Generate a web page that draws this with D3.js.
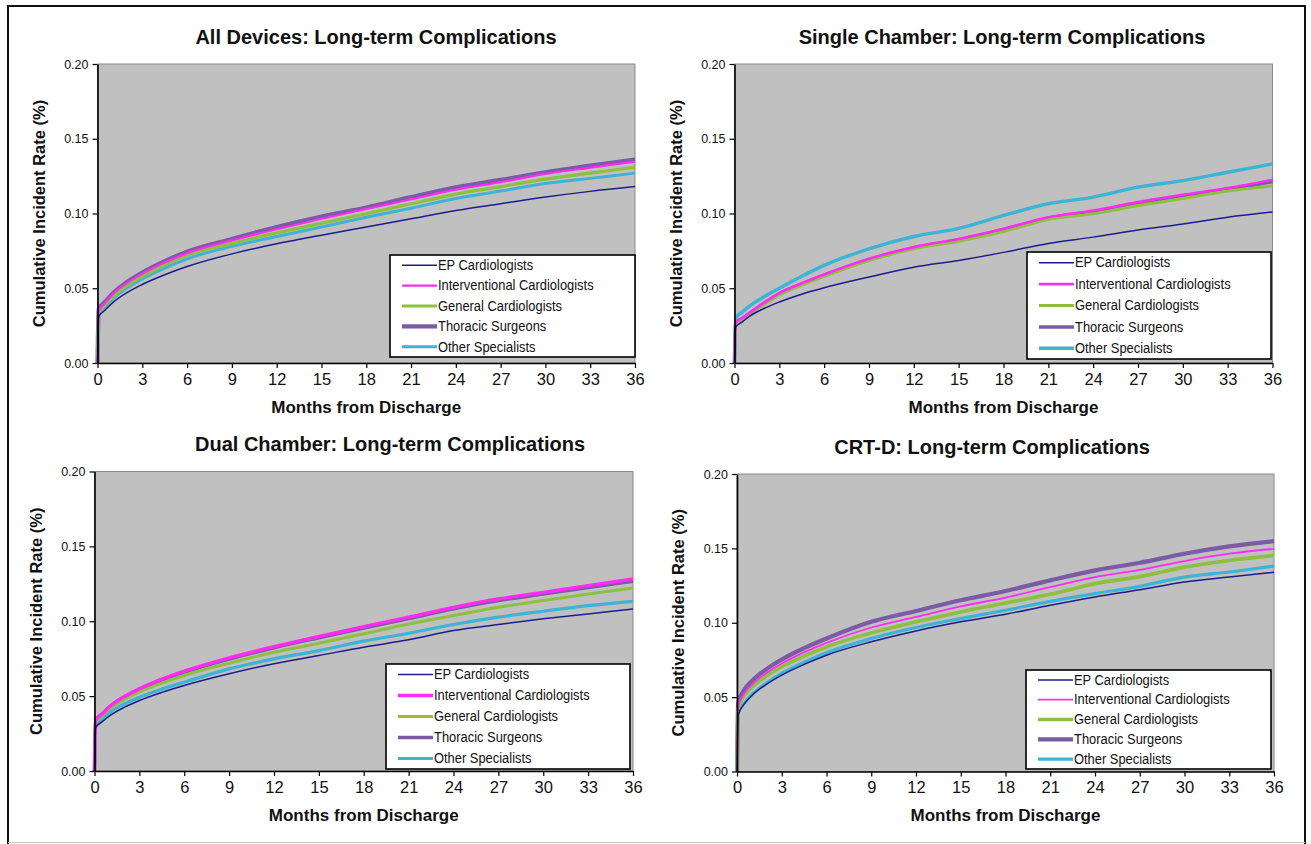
<!DOCTYPE html>
<html><head><meta charset="utf-8">
<script src="https://cdn.jsdelivr.net/npm/d3@7"></script>
<style>
body{margin:0;background:#fff;}
svg{display:block;font-family:"Liberation Sans",Arial,sans-serif;}
</style></head>
<body><svg id="c" width="1311" height="844"></svg>
<script>
// ---- data ----
const months = [0, 0.08, 0.5, 1, 2, 3, 4.5, 6, 9, 12, 15, 18, 21, 24, 27, 30, 33, 36];
const seriesNames = ["EP Cardiologists","Interventional Cardiologists","General Cardiologists","Thoracic Surgeons","Other Specialists"];
const seriesColors = ["#1c1c8f","#ff2cf5","#8ebf3f","#7b5aa6","#3fb3d3"];
const xTicks = [0,3,6,9,12,15,18,21,24,27,30,33,36];
const yTicks = [0,0.05,0.10,0.15,0.20];
const titles = ["All Devices: Long-term Complications","Single Chamber: Long-term Complications","Dual Chamber: Long-term Complications","CRT-D: Long-term Complications"];

// All devices
const allEP  = [0,0.031,0.0353,0.0402,0.0472,0.0525,0.0590,0.0645,0.073,0.0797,0.0855,0.091,0.0965,0.102,0.1065,0.111,0.1148,0.118];
const allInt = [0,0.035,0.0400,0.0457,0.0536,0.0597,0.0672,0.0735,0.082,0.0895,0.0965,0.103,0.1095,0.116,0.121,0.1265,0.1307,0.1347];
const allGen = [0,0.034,0.0385,0.0440,0.0518,0.058,0.0656,0.072,0.080,0.087,0.0935,0.0998,0.1065,0.113,0.118,0.123,0.127,0.131];
const allTho = [0,0.036,0.0408,0.0464,0.0543,0.0605,0.0681,0.0745,0.083,0.091,0.098,0.104,0.111,0.1176,0.1225,0.1276,0.132,0.136];
const allOth = [0,0.033,0.0375,0.0428,0.0503,0.0563,0.0635,0.0697,0.078,0.0846,0.091,0.0975,0.1035,0.110,0.115,0.120,0.1235,0.127];
// Single chamber
const sglEP  = [0,0.024,0.0273,0.0312,0.0366,0.0408,0.0460,0.0503,0.0575,0.0641,0.0686,0.074,0.080,0.0842,0.089,0.093,0.0975,0.101];
const sglInt = [0,0.027,0.0300,0.0335,0.0405,0.0468,0.0533,0.0592,0.0697,0.0775,0.083,0.0898,0.0975,0.102,0.1076,0.1125,0.117,0.1225];
const sglGen = [0,0.026,0.0290,0.0325,0.0392,0.0455,0.0521,0.058,0.0686,0.0764,0.0815,0.088,0.096,0.0998,0.1053,0.110,0.115,0.1185];
const sglTho = [0,0.027,0.0295,0.0330,0.0400,0.0463,0.0528,0.0587,0.069,0.077,0.0823,0.089,0.0968,0.1012,0.1068,0.1118,0.1162,0.1214];
const sglOth = [0,0.030,0.0340,0.0380,0.0445,0.0500,0.0580,0.0653,0.0764,0.0846,0.090,0.0987,0.1065,0.111,0.1176,0.122,0.1276,0.1332];
// Dual chamber
const dualEP  = [0,0.029,0.0328,0.0368,0.0426,0.0471,0.0525,0.0571,0.0649,0.0716,0.0771,0.0827,0.0876,0.0938,0.0978,0.1016,0.1049,0.1082];
const dualInt = [0,0.034,0.0380,0.0429,0.0497,0.0549,0.0613,0.0667,0.0756,0.0831,0.0898,0.0964,0.1027,0.1093,0.1149,0.1193,0.1238,0.1282];
const dualGen = [0,0.032,0.0368,0.0414,0.0478,0.0527,0.0587,0.0638,0.072,0.0793,0.0853,0.0916,0.0982,0.1038,0.1093,0.1138,0.1182,0.1222];
const dualTho = [0,0.034,0.0380,0.0427,0.0494,0.0545,0.0607,0.066,0.0748,0.0823,0.089,0.0955,0.1018,0.1083,0.1138,0.1182,0.1225,0.1267];
const dualOth = [0,0.030,0.0350,0.0390,0.0448,0.0493,0.0547,0.0593,0.0682,0.0749,0.0804,0.0867,0.092,0.0978,0.1027,0.1067,0.1104,0.1133];
// CRT-D
const crtEP  = [0,0.038,0.0456,0.0511,0.0588,0.0648,0.0720,0.0782,0.0872,0.0945,0.1006,0.1057,0.1117,0.1173,0.1222,0.1274,0.1307,0.1339];
const crtInt = [0,0.044,0.0527,0.0584,0.0664,0.0726,0.0801,0.0865,0.0968,0.1039,0.111,0.1169,0.124,0.1307,0.1355,0.1415,0.1464,0.1497];
const crtGen = [0,0.042,0.0512,0.0567,0.0644,0.0704,0.0776,0.0838,0.0932,0.1006,0.1073,0.1133,0.1191,0.1263,0.1310,0.1374,0.1419,0.1453];
const crtTho = [0,0.046,0.0551,0.0609,0.0690,0.0753,0.0829,0.0894,0.1006,0.1079,0.1151,0.1213,0.1285,0.1352,0.1403,0.1464,0.1513,0.1549];
const crtOth = [0,0.039,0.0460,0.0517,0.0597,0.0659,0.0734,0.0798,0.0894,0.0968,0.1028,0.1084,0.1144,0.1196,0.1245,0.1307,0.1341,0.1381];

const panelData = [
  [allEP, allInt, allGen, allTho, allOth],
  [sglEP, sglInt, sglGen, sglTho, sglOth],
  [dualEP, dualInt, dualGen, dualTho, dualOth],
  [crtEP, crtInt, crtGen, crtTho, crtOth]
];

// ---- layout ----
const layout = [
  {x0:97.5, x1:635, yT:64, yB:363, titleX:376, titleY:44, ylabX:41, xlabY:413, leg:[390,255,245,102], widths:[1.5,2.2,3.2,4.2,3]},
  {x0:734.5, x1:1272.5, yT:64, yB:363, titleX:1002, titleY:44, ylabX:678, xlabY:413, leg:[1027,252,244,107], widths:[1.5,2.6,3,3.5,3.4]},
  {x0:94.5, x1:633, yT:471.5, yB:771, titleX:390, titleY:451, ylabX:38, xlabY:821, leg:[386,664,244,105], widths:[1.5,3.4,3,3.5,3.2]},
  {x0:737, x1:1274, yT:474, yB:771.5, titleX:992, titleY:454, ylabX:680, xlabY:821, leg:[1026,670,245,99], widths:[1.5,1.8,3.6,4.2,3.2]}
];
const drawOrder = [3,4,2,1,0];

const svg = d3.select("#c");
// outer frame
svg.append("path").attr("d","M8,850 L8,6 L1305,6 L1305,850").attr("fill","none").attr("stroke","#111").attr("stroke-width",2);
svg.append("line").attr("x1",8).attr("x2",1305).attr("y1",842.5).attr("y2",842.5).attr("stroke","#ccc").attr("stroke-width",1);

layout.forEach((L, pi) => {
  const g = svg.append("g");
  const x = d3.scaleLinear().domain([0,36]).range([L.x0, L.x1]);
  const y = d3.scaleLinear().domain([0,0.2]).range([L.yB, L.yT]);

  g.append("rect").attr("x",L.x0).attr("y",L.yT).attr("width",L.x1-L.x0).attr("height",L.yB-L.yT)
    .attr("fill","#c0c0c0").attr("stroke","#8a8a8a").attr("stroke-width",1);

  const line = d3.line().x((d,i)=>x(months[i])).y(d=>y(d)).curve(d3.curveMonotoneX);
  drawOrder.forEach(si => {
    g.append("path").datum(panelData[pi][si]).attr("d", line)
      .attr("fill","none").attr("stroke", seriesColors[si]).attr("stroke-width", L.widths[si])
      .attr("stroke-linejoin","round");
  });

  const yAx = g.append("g").attr("transform",`translate(${L.x0},0)`)
    .call(d3.axisLeft(y).tickValues(yTicks).tickFormat(d3.format(".2f")).tickSize(5).tickSizeOuter(0));
  yAx.select(".domain").attr("stroke","#000").attr("stroke-width",1.6);
  yAx.selectAll(".tick line").attr("stroke","#000").attr("stroke-width",1.2);
  yAx.selectAll(".tick text").attr("font-size",12.5).attr("fill","#111").attr("x",-9).attr("font-family","'Liberation Sans Narrow','Liberation Sans',Arial");

  const xAx = g.append("g").attr("transform",`translate(0,${L.yB})`)
    .call(d3.axisBottom(x).tickValues(xTicks).tickSize(5).tickSizeOuter(0));
  xAx.select(".domain").attr("stroke","#000").attr("stroke-width",1.6);
  xAx.selectAll(".tick line").attr("stroke","#000").attr("stroke-width",1.2);
  xAx.selectAll(".tick text").attr("font-size",16.5).attr("fill","#111").attr("y",10);

  g.append("text").attr("x",L.titleX).attr("y",L.titleY).attr("text-anchor","middle")
    .attr("font-weight","bold").attr("font-size",20).attr("fill","#111").text(titles[pi]);
  g.append("text").attr("transform",`translate(${L.ylabX},${(L.yT+L.yB)/2}) rotate(-90)`)
    .attr("text-anchor","middle").attr("dominant-baseline","middle")
    .attr("font-weight","bold").attr("font-size",16.5).attr("fill","#111").text("Cumulative Incident Rate (%)");
  g.append("text").attr("x",(L.x0+L.x1)/2).attr("y",L.xlabY).attr("text-anchor","middle")
    .attr("font-weight","bold").attr("font-size",17).attr("fill","#111").text("Months from Discharge");

  // legend
  const [lx,ly,lw,lh] = L.leg;
  const lg = g.append("g");
  lg.append("rect").attr("x",lx).attr("y",ly).attr("width",lw).attr("height",lh)
    .attr("fill","#fff").attr("stroke","#000").attr("stroke-width",1.6);
  const step = lh/5;
  seriesNames.forEach((n,i)=>{
    const cy = ly + step*(i+0.5);
    lg.append("line").attr("x1",lx+12).attr("x2",lx+47).attr("y1",cy).attr("y2",cy)
      .attr("stroke",seriesColors[i]).attr("stroke-width",L.widths[i]);
    lg.append("text").attr("transform",`translate(${lx+48},${cy}) scale(0.89,1)`)
      .attr("dominant-baseline","central")
      .attr("font-size",14.5).attr("fill","#111").text(n);
  });
});
</script></body></html>
